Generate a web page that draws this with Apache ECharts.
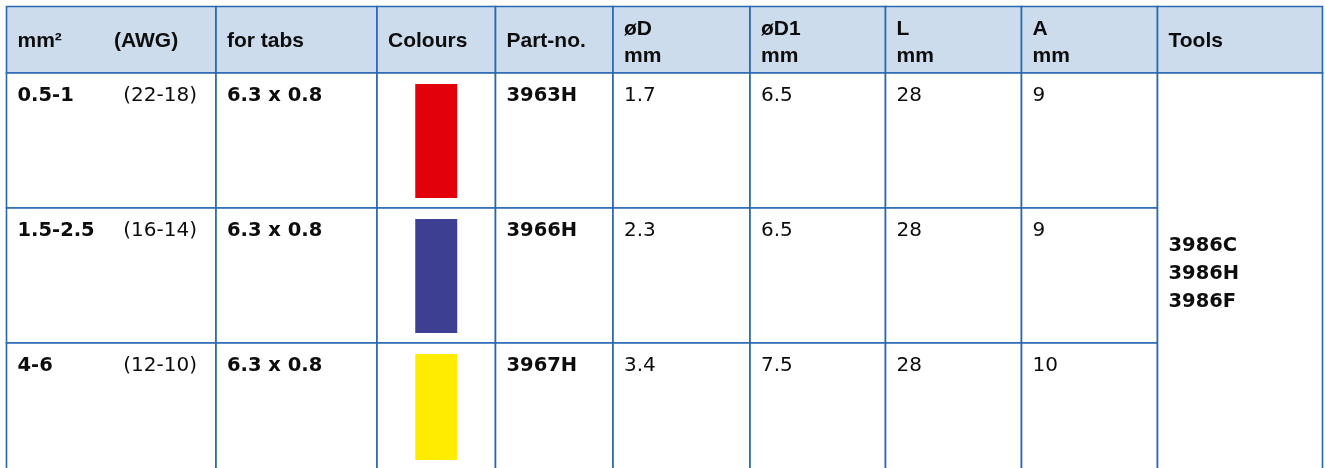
<!DOCTYPE html>
<html><head><meta charset="utf-8">
<script src="https://cdn.jsdelivr.net/npm/echarts@6/dist/echarts.min.js"></script>
<style>html,body{margin:0;padding:0;background:#fff}#c{width:1325px;height:468px}</style>
</head><body><div id="c"></div>
<script>
// ---- data ----
const headerLine1 = ['mm²', 'for tabs', 'Colours', 'Part-no.', 'øD', 'øD1', 'L', 'A', 'Tools'];
const headerLine2 = ['', '', '', '', 'mm', 'mm', 'mm', 'mm', ''];
const headerAwg = '(AWG)';
const crossSection = ['0.5-1', '1.5-2.5', '4-6'];
const awg = ['(22-18)', '(16-14)', '(12-10)'];
const forTabs = ['6.3 x 0.8', '6.3 x 0.8', '6.3 x 0.8'];
const colours = ['#e2000b', '#3d3f93', '#ffec00'];
const partNo = ['3963H', '3966H', '3967H'];
const diamD = ['1.7', '2.3', '3.4'];
const diamD1 = ['6.5', '6.5', '7.5'];
const lengthL = ['28', '28', '28'];
const dimA = ['9', '9', '10'];
const tools = ['3986C', '3986H', '3986F'];

// ---- layout (table geometry in axis units = px) ----
const COL_EDGES = [6.5, 216, 377, 495.5, 613, 750, 885.5, 1021.5, 1157.5, 1322.5];
const ROW_EDGES = [6.5, 73, 208, 343, 470];
const PAD = 11;
const HEADER_BG = '#ccdcec';
const BORDER = '#2767b2';
const INK = '#0d0d0d';
const F_HEAD = 'bold 21px "Liberation Sans", Arial, sans-serif';
const F_BOLD = 'bold 19.5px "DejaVu Sans", sans-serif';
const F_REG = '20px "DejaVu Sans", sans-serif';

// ---- build cells from data ----
const cells = [];
headerLine1.forEach((t, c) => cells.push({ col: c, row: 0, span: 1, kind: 'head', l1: t, l2: headerLine2[c] }));
crossSection.forEach((v, i) => {
  const r = i + 1;
  cells.push({ col: 0, row: r, span: 1, kind: 'cs', text: v, awg: awg[i] });
  cells.push({ col: 1, row: r, span: 1, kind: 'bold', text: forTabs[i] });
  cells.push({ col: 2, row: r, span: 1, kind: 'swatch', color: colours[i] });
  cells.push({ col: 3, row: r, span: 1, kind: 'bold', text: partNo[i] });
  cells.push({ col: 4, row: r, span: 1, kind: 'reg', text: diamD[i] });
  cells.push({ col: 5, row: r, span: 1, kind: 'reg', text: diamD1[i] });
  cells.push({ col: 6, row: r, span: 1, kind: 'reg', text: lengthL[i] });
  cells.push({ col: 7, row: r, span: 1, kind: 'reg', text: dimA[i] });
});
cells.push({ col: 8, row: 1, span: 3, kind: 'tools', lines: tools });

function txt(text, x, y, font, align) {
  return { type: 'text', style: { text, x, y, font, fill: INK, align: align || 'left', verticalAlign: 'middle' } };
}

function renderItem(params, api) {
  const cell = cells[params.dataIndex];
  const p0 = api.coord([COL_EDGES[cell.col], ROW_EDGES[cell.row]]);
  const p1 = api.coord([COL_EDGES[cell.col + 1], ROW_EDGES[cell.row + cell.span]]);
  const x0 = p0[0], y0 = p0[1], x1 = p1[0], y1 = p1[1];
  const ch = [{
    type: 'rect', shape: { x: x0, y: y0, width: x1 - x0, height: y1 - y0 },
    style: { fill: cell.row === 0 ? HEADER_BG : '#ffffff', stroke: BORDER, lineWidth: 1.6 }
  }];
  const tx = x0 + PAD;
  const ty = y0 + 22.5;
  if (cell.kind === 'head') {
    if (cell.l2) {
      ch.push(txt(cell.l1, tx, y0 + 22.5, F_HEAD));
      ch.push(txt(cell.l2, tx, y0 + 49.5, F_HEAD));
    } else {
      ch.push(txt(cell.l1, tx, (y0 + y1) / 2 + 1.5, F_HEAD));
      if (cell.col === 0) ch.push(txt(headerAwg, x0 + 107.5, (y0 + y1) / 2 + 1.5, F_HEAD));
    }
  } else if (cell.kind === 'cs') {
    ch.push(txt(cell.text, tx, ty, F_BOLD));
    ch.push(txt(cell.awg, x1 - 19, ty, F_REG, 'right'));
  } else if (cell.kind === 'bold') {
    ch.push(txt(cell.text, tx, ty, F_BOLD));
  } else if (cell.kind === 'reg') {
    ch.push(txt(cell.text, tx, ty, F_REG));
  } else if (cell.kind === 'swatch') {
    const cx = (x0 + x1) / 2;
    ch.push({ type: 'rect', shape: { x: cx - 21, y: y0 + 11, width: 42, height: (y1 - 10) - (y0 + 11) }, style: { fill: cell.color } });
  } else if (cell.kind === 'tools') {
    const cy = (y0 + y1) / 2 + 2.5;
    cell.lines.forEach((t, k) => ch.push(txt(t, tx, cy + (k - 1) * 28.2, F_BOLD)));
  }
  return { type: 'group', children: ch };
}

const chart = echarts.init(document.getElementById('c'), null, { renderer: 'canvas' });
chart.setOption({
  animation: false,
  backgroundColor: '#ffffff',
  grid: { left: 0, right: 0, top: 0, bottom: 0, containLabel: false },
  xAxis: { type: 'value', min: 0, max: 1325, show: false },
  yAxis: { type: 'value', min: 0, max: 468, inverse: true, show: false },
  series: [{
    type: 'custom',
    clip: false,
    renderItem,
    data: cells.map(c => [c.col, c.row]),
    silent: true
  }]
});
</script>
</body></html>
